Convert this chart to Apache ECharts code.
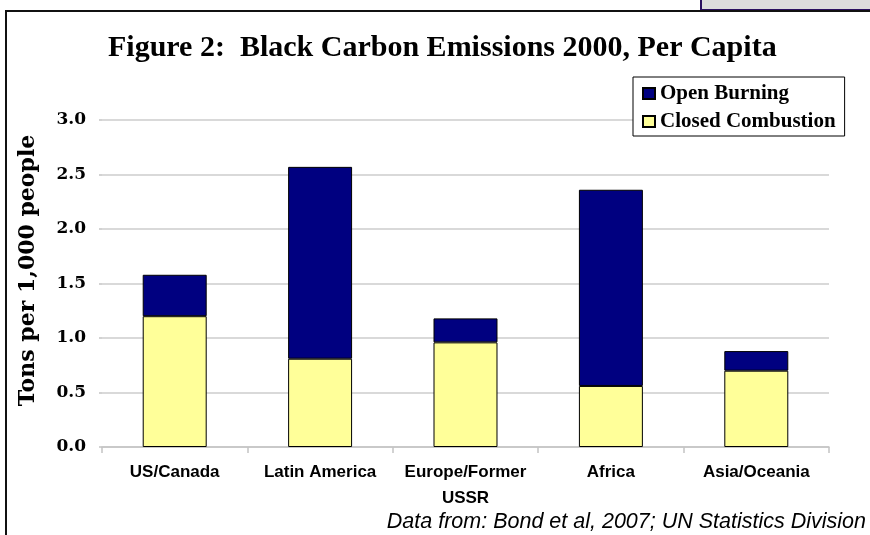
<!DOCTYPE html>
<html>
<head>
<meta charset="utf-8">
<script src="https://cdn.jsdelivr.net/npm/echarts@6/dist/echarts.min.js"></script>
<style>
  html, body { margin: 0; padding: 0; background: #fff; }
  #main { width: 870px; height: 535px; }
</style>
</head>
<body>
<div id="main"></div>
<script>
// regions and values (tons per 1,000 people)
var regions = ['US/Canada', 'Latin America', 'Europe/Former\nUSSR', 'Africa', 'Asia/Oceania'];
var closedCombustion = [1.20, 0.81, 0.96, 0.56, 0.70];
var openBurning = [0.38, 1.76, 0.22, 1.80, 0.18];
var yTicks = [0, 0.5, 1.0, 1.5, 2.0, 2.5, 3.0];

var serifNum = 'DejaVu Serif';
var serifTxt = 'Liberation Serif';

var myChart = echarts.init(document.getElementById('main'));
myChart.setOption({
  animation: false,
  backgroundColor: '#fff',
  title: {
    text: 'Figure 2:  Black Carbon Emissions 2000, Per Capita',
    left: 108,
    top: 33,
    padding: 0,
    textStyle: { fontFamily: serifTxt, fontWeight: 'bold', fontSize: 30, color: '#000' }
  },
  legend: {
    orient: 'vertical',
    left: 633,
    top: 77,
    padding: [6, 9, 4, 9],
    itemGap: 7,
    itemWidth: 12,
    itemHeight: 11,
    borderColor: '#000',
    borderWidth: 1,
    backgroundColor: '#fff',
    data: [
      { name: 'Open Burning', icon: 'rect' },
      { name: 'Closed Combustion', icon: 'rect' }
    ],
    textStyle: { fontFamily: serifTxt, fontWeight: 'bold', fontSize: 21, color: '#000' }
  },
  grid: { left: 102, right: 41, top: 120, bottom: 88 },
  xAxis: {
    type: 'category',
    data: regions,
    axisLine: { lineStyle: { color: '#c4c4c4', width: 1.5 } },
    axisTick: { show: true, length: 6, interval: 0, lineStyle: { color: '#c4c4c4', width: 1.5 } },
    axisLabel: {
      interval: 0,
      margin: 12,
      lineHeight: 26,
      fontFamily: 'Liberation Sans',
      fontWeight: 'bold',
      fontSize: 17,
      color: '#000'
    }
  },
  yAxis: {
    type: 'value',
    min: 0,
    max: 3,
    interval: 0.5,
    name: 'Tons per 1,000 people',
    nameLocation: 'middle',
    nameGap: 63,
    nameTextStyle: { fontFamily: serifNum, fontWeight: 'bold', fontSize: 22, color: '#000', padding: [0, 0, 0, 26] },
    axisLine: { show: false },
    axisTick: { show: true, length: 3, lineStyle: { color: '#c4c4c4', width: 1.5 } },
    splitLine: { lineStyle: { color: '#cccccc', width: 1.5 } },
    axisLabel: {
      margin: 16,
      fontFamily: serifNum,
      fontWeight: 'bold',
      fontSize: 17,
      color: '#000',
      formatter: function (v) { return v.toFixed(1); }
    }
  },
  series: [
    {
      name: 'Closed Combustion',
      type: 'bar',
      stack: 'bc',
      barWidth: '44%',
      itemStyle: { color: '#ffff99', borderColor: '#000', borderWidth: 1 },
      data: closedCombustion
    },
    {
      name: 'Open Burning',
      type: 'bar',
      stack: 'bc',
      barWidth: '44%',
      itemStyle: { color: '#000080', borderColor: '#000', borderWidth: 1 },
      data: openBurning
    }
  ],
  graphic: [
    // outer frame of the figure (runs off the right and bottom edge)
    { type: 'rect', shape: { x: 6, y: 11, width: 900, height: 600 }, style: { fill: 'none', stroke: '#111', lineWidth: 2 }, z: 100 },
    // grey box cut off at the top right
    { type: 'rect', shape: { x: 701, y: -2, width: 180, height: 12 }, style: { fill: '#dcdcdc', stroke: '#2a1060', lineWidth: 2 }, z: 99 },
    {
      type: 'text',
      right: 4,
      top: 511,
      style: {
        text: 'Data from: Bond et al, 2007; UN Statistics Division',
        fontFamily: 'Liberation Sans',
        fontStyle: 'italic',
        fontSize: 21.5,
        fill: '#000',
        textAlign: 'right'
      }
    }
  ]
});
</script>
</body>
</html>
